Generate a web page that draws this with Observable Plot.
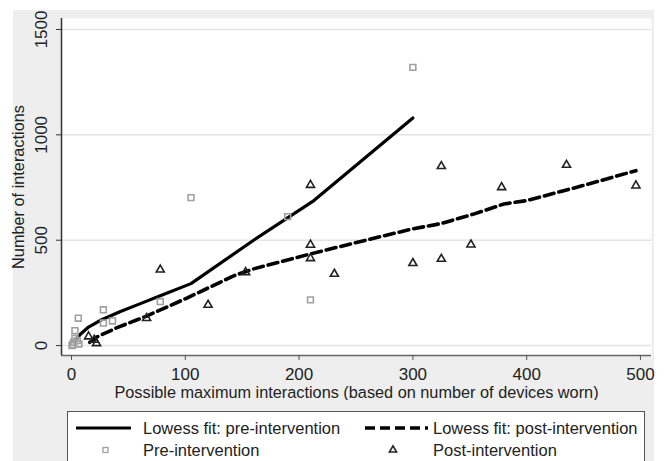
<!DOCTYPE html>
<html>
<head>
<meta charset="utf-8">
<script src="https://cdn.jsdelivr.net/npm/d3@7"></script>
<script src="https://cdn.jsdelivr.net/npm/@observablehq/plot@0.6"></script>
<style>
  html, body { margin: 0; padding: 0; background: #ffffff; }
  #root { position: relative; width: 667px; height: 461px; overflow: hidden; font-family: "Liberation Sans", Arial, Helvetica, sans-serif; }
  #bg { position: absolute; left: 13px; top: 10px; width: 641px; height: 451px; background: #eeeeee; }
  #chart { position: absolute; left: 0; top: 0; }
  #legend { position: absolute; left: 67px; top: 411px; width: 578px; height: 60px; background: #ffffff; border: 1px solid #555; box-sizing: border-box; }
  #legend svg { position: absolute; left: 0; top: 0; }
</style>
</head>
<body>
<div id="root">
  <div id="bg"></div>
  <div id="chart"></div>
  <div id="legend"></div>
</div>
<script>
// Pre-intervention observations (possible maximum interactions, number of interactions)
const preX = [0.5, 1, 2, 3, 5, 6.5, 3, 6, 28, 28, 36, 78, 105, 190, 210, 300];
const preY = [0, 5, 16, 35, 24, 8, 71, 130, 170, 107, 117, 209, 702, 612, 217, 1320];
// Post-intervention observations
const postX = [15, 20, 22, 66, 78, 120, 153, 210, 210, 210, 231, 300, 325, 351, 325, 378, 435, 496];
const postY = [43, 27, 11, 130, 360, 193, 348, 762, 478, 414, 340, 391, 411, 479, 851, 751, 857, 759];
// Lowess fits
const preFitX = [5, 8, 15, 25, 43, 60, 78, 105, 160, 213, 300];
const preFitY = [35, 55, 88, 119, 162, 198, 237, 294, 500, 688, 1080];
const postFitX = [16, 22, 40, 66, 100, 143, 160, 210, 257, 300, 324, 354, 380, 400, 450, 496];
const postFitY = [15, 40, 85, 140, 222, 332, 364, 435, 498, 554, 578, 625, 672, 688, 760, 830];
// Axis ticks
const xTicks = [0, 100, 200, 300, 400, 500];
const yTicks = [0, 500, 1000, 1500];
const xLabel = "Possible maximum interactions (based on number of devices worn)";
const yLabel = "Number of interactions";
const legendItems = ["Lowess fit: pre-intervention", "Lowess fit: post-intervention", "Pre-intervention", "Post-intervention"];

const pre = preX.map((x, i) => ({x, y: preY[i]}));
const post = postX.map((x, i) => ({x, y: postY[i]}));
const preFit = preFitX.map((x, i) => ({x, y: preFitY[i]}));
const postFit = postFitX.map((x, i) => ({x, y: postFitY[i]}));

const FONT = "Liberation Sans, Arial, Helvetica, sans-serif";

const chart = Plot.plot({
  width: 667,
  height: 400,
  marginLeft: 61,
  marginRight: 16,
  marginTop: 18,
  marginBottom: 45,
  style: {background: "transparent", fontFamily: FONT, fontSize: "17px", color: "#222"},
  x: {domain: [-8.8, 509.7], ticks: xTicks, label: null},
  y: {domain: [-47, 1552], ticks: yTicks, label: null},
  marks: [
    Plot.frame({fill: "#ffffff", stroke: "none"}),
    Plot.gridY(yTicks, {stroke: "#e4e4e4", strokeOpacity: 1, strokeWidth: 1.5}),
    Plot.ruleY([-47], {stroke: "#666", strokeWidth: 1.5}),
    Plot.ruleX([-8.8], {stroke: "#333", strokeWidth: 1.5}),
    Plot.axisX(xTicks, {tickSize: 5, tickPadding: 7, tickFormat: "d", stroke: "#555", fill: "#222"}),
    Plot.axisY(yTicks, {tickSize: 5, tickPadding: 10, tickRotate: -90, tickFormat: "d", stroke: "#333", fill: "#222"}),
    Plot.line(preFit, {x: "x", y: "y", stroke: "#000", strokeWidth: 3.2}),
    Plot.line(postFit, {x: "x", y: "y", stroke: "#000", strokeWidth: 3.6, strokeDasharray: "10,5"}),
    Plot.dot(pre, {x: "x", y: "y", symbol: "square", r: 3.3, stroke: "#a0a0a0", strokeWidth: 1.6, fill: "none"}),
    Plot.dot(post, {x: "x", y: "y", symbol: "triangle", r: 3.0, stroke: "#222", strokeWidth: 1.6, fill: "none"}),
    Plot.text([xLabel], {frameAnchor: "bottom", lineAnchor: "middle", dy: 37, fontSize: 16.3, fill: "#222"}),
    Plot.text([yLabel], {frameAnchor: "left", textAnchor: "middle", lineAnchor: "middle", dx: -43, rotate: -90, fontSize: 16.3, fill: "#222"})
  ]
});
document.getElementById("chart").appendChild(chart);

// Legend
const lw = 578, lh = 60;
const ls = d3.create("svg").attr("width", lw).attr("height", lh)
  .style("font-family", FONT).style("font-size", "16.5px");
const row1 = 16, row2 = 38;
ls.append("line").attr("x1", 8).attr("x2", 63).attr("y1", row1).attr("y2", row1)
  .attr("stroke", "#000").attr("stroke-width", 3.2);
ls.append("line").attr("x1", 297).attr("x2", 360).attr("y1", row1).attr("y2", row1)
  .attr("stroke", "#000").attr("stroke-width", 3.6).attr("stroke-dasharray", "10,5");
ls.append("rect").attr("x", 35).attr("y", row2 - 2.5).attr("width", 5).attr("height", 5)
  .attr("fill", "none").attr("stroke", "#a0a0a0").attr("stroke-width", 1.3);
ls.append("path").attr("d", d3.symbol(d3.symbolTriangle, 22)()).attr("transform", `translate(325,${row2})`)
  .attr("fill", "none").attr("stroke", "#222").attr("stroke-width", 1.6);
const textPos = [[75, row1], [365, row1], [75, row2], [365, row2]];
legendItems.forEach((t, i) => {
  ls.append("text").attr("x", textPos[i][0]).attr("y", textPos[i][1]).attr("dy", "0.35em")
    .attr("fill", "#222").text(t);
});
document.getElementById("legend").appendChild(ls.node());
</script>
</body>
</html>
